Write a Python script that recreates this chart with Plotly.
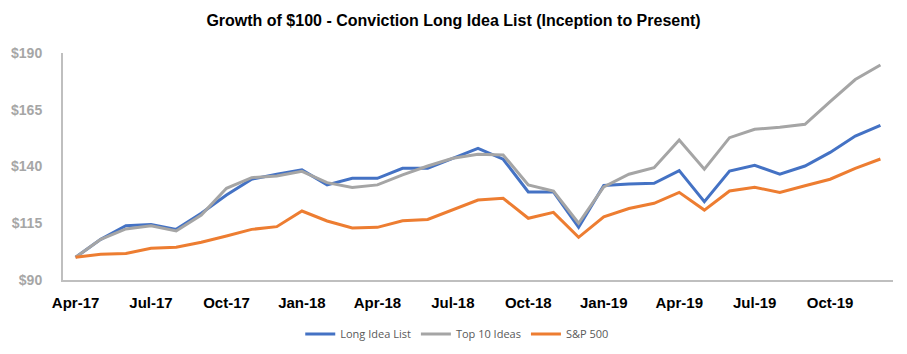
import plotly.graph_objects as go

months = ["Apr-17","May-17","Jun-17","Jul-17","Aug-17","Sep-17","Oct-17","Nov-17","Dec-17",
          "Jan-18","Feb-18","Mar-18","Apr-18","May-18","Jun-18","Jul-18","Aug-18","Sep-18",
          "Oct-18","Nov-18","Dec-18","Jan-19","Feb-19","Mar-19","Apr-19","May-19","Jun-19",
          "Jul-19","Aug-19","Sep-19","Oct-19","Nov-19","Dec-19"]

long_idea = [100, 107.9, 113.9, 114.5, 112.3, 119.4, 127.4, 134.4, 136.6,
             138.5, 131.9, 134.8, 134.8, 139.2, 139.2, 143.6, 148.0, 143.2,
             128.8, 128.8, 113.2, 131.6, 132.3, 132.6, 138.2, 124.5, 138.0,
             140.5, 136.6, 140.2, 146.2, 153.4, 158.1]

top10 = [100, 107.9, 112.5, 113.9, 111.6, 118.6, 130.4, 135.1, 135.8,
         137.9, 132.9, 130.8, 131.9, 136.3, 140.2, 143.6, 145.4, 145.1,
         131.9, 129.2, 115.0, 131.0, 136.6, 139.5, 151.7, 138.8, 152.7,
         156.4, 157.3, 158.6, 168.6, 178.3, 184.7]

sp500 = [100, 101.3, 101.7, 104.0, 104.4, 106.6, 109.4, 112.3, 113.5,
         120.4, 116.0, 112.9, 113.2, 116.1, 116.7, 121.1, 125.2, 126.0,
         117.2, 119.8, 108.8, 117.8, 121.5, 123.8, 128.6, 120.8, 129.2,
         130.8, 128.6, 131.5, 134.4, 139.2, 143.3]

y_ticks = [90, 115, 140, 165, 190]
y_tick_labels = ["$90", "$115", "$140", "$165", "$190"]
x_tick_labels = months[::3]

series = [
    ("Long Idea List", long_idea, "#4472C4"),
    ("Top 10 Ideas", top10, "#A5A5A5"),
    ("S&P 500", sp500, "#ED7D31"),
]

fig = go.Figure()
for name, vals, color in series:
    fig.add_trace(go.Scatter(x=months, y=vals, mode="lines", name=name,
                             line=dict(color=color, width=3)))

fig.update_layout(
    width=907, height=354,
    margin=dict(l=63, r=14, t=53, b=74, autoexpand=False),
    paper_bgcolor="white", plot_bgcolor="white",
    title=dict(text="<b>Growth of $100 - Conviction Long Idea List (Inception to Present)</b>",
               x=0.5, xanchor="center", y=1 - 20/354, yanchor="middle", yref="container",
               font=dict(family="Liberation Sans, Arial, sans-serif", size=16, color="black")),
    legend=dict(orientation="h", x=0.475, xanchor="center", xref="paper",
                y=1 - 334/354, yanchor="middle", yref="container",
                font=dict(family="Open Sans, sans-serif", size=11, color="#595959"),
                itemwidth=30, tracegroupgap=0),
    showlegend=True,
)

fig.update_xaxes(type="category", range=[-0.5, 32.5], tickmode="array",
                 tickvals=x_tick_labels, ticktext=["<b>%s</b>" % t for t in x_tick_labels],
                 showgrid=False, zeroline=False, showline=True, linecolor="#BFBFBF", linewidth=2,
                 ticks="", ticklabelstandoff=8,
                 tickfont=dict(family="Liberation Sans, Arial, sans-serif", size=15, color="black"),
                 tickangle=0)
fig.update_yaxes(range=[90, 190], tickmode="array", tickvals=y_ticks,
                 ticktext=["<b>%s</b>" % t for t in y_tick_labels],
                 showgrid=False, zeroline=False, showline=True, linecolor="#BFBFBF", linewidth=2,
                 ticks="", ticklabelstandoff=16,
                 tickfont=dict(family="Liberation Sans, Arial, sans-serif", size=14, color="#A6A6A6"))

fig.write_html("out.html")
